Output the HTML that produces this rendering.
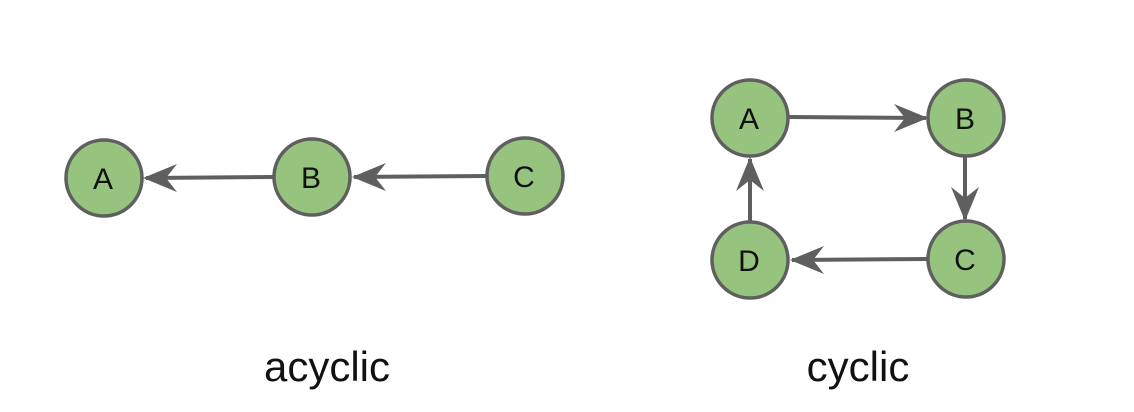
<!DOCTYPE html>
<html><head><meta charset="utf-8"><style>
html,body{margin:0;padding:0;background:#fff;}
svg{display:block;}
text{font-family:"Liberation Sans",sans-serif;}
</style></head><body>
<svg width="1134" height="412" viewBox="0 0 1134 412">
<g stroke="#5f5f5f" stroke-width="4" fill="none">
<line x1="273" y1="177" x2="146" y2="178"/>
<line x1="487" y1="176" x2="354" y2="177"/>
<line x1="789" y1="117" x2="926" y2="118"/>
<line x1="965" y1="157" x2="965" y2="219"/>
<line x1="927" y1="259" x2="792" y2="260"/>
<line x1="750" y1="222" x2="750" y2="159"/>
</g>
<g fill="#5f5f5f">
<path d="M143,178 L177,164 L166,178 L177,192 Z"/>
<path d="M352,177 L386,163 L375,177 L386,191 Z"/>
<path d="M928,118 L894,104 L905,118 L894,132 Z"/>
<path d="M965,221 L951,187 L965,198 L979,187 Z"/>
<path d="M790,260 L824,246 L813,260 L824,274 Z"/>
<path d="M750,157 L736,191 L750,180 L764,191 Z"/>
</g>
<g fill="#96c47e" stroke="#5f5f5f" stroke-width="3.5">
<circle cx="104" cy="178" r="38"/>
<circle cx="312" cy="177" r="38"/>
<circle cx="525" cy="176" r="38"/>
<circle cx="750" cy="118" r="38"/>
<circle cx="966" cy="118" r="38"/>
<circle cx="966" cy="259" r="38"/>
<circle cx="750" cy="260" r="38"/>
</g>
<g font-size="30" fill="#111" text-anchor="middle">
<text x="103" y="189">A</text>
<text x="311" y="188">B</text>
<text x="524" y="187">C</text>
<text x="749" y="129">A</text>
<text x="965" y="129">B</text>
<text x="965" y="270">C</text>
<text x="749" y="271">D</text>
</g>
<g font-size="42" fill="#111" text-anchor="middle">
<text x="327" y="381">acyclic</text>
<text x="858" y="381">cyclic</text>
</g>
</svg>
</body></html>
